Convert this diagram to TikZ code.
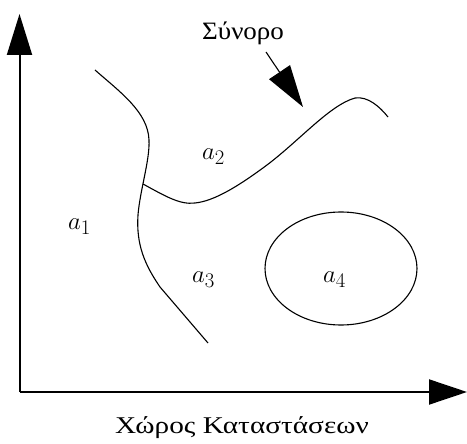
\documentclass[tikz,border=0pt]{standalone}
\usepackage{fontspec}
\usetikzlibrary{arrows.meta}
\newfontfamily\grfont[FakeStretch=1.22]{Liberation Serif}
\newfontfamily\grfonttop[FakeStretch=1.08]{Liberation Serif}
\begin{document}
\begin{tikzpicture}[x=1pt,y=-1pt,
  axis/.style={line width=2pt},
  curve/.style={line width=1.1pt},
  lbl/.style={inner sep=0pt,anchor=base west},
  mlbl/.style={inner sep=0pt,anchor=base west,font=\fontsize{29}{34}\selectfont}]
\useasboundingbox (0,0) rectangle (467,444);
% axes
\coordinate (O) at (19.5,392);
\coordinate (ytip) at (19.5,14);
\coordinate (xtip) at (467,392);
\draw[axis,-{Triangle[length=41pt,width=25pt]}] (O) -- (ytip);
\draw[axis,-{Triangle[length=38pt,width=25pt]}] (O) -- (xtip);
% boundary curves
\draw[curve] (95,70) .. controls (120,92) and (148,112) .. (149,140)
  .. controls (150,160) and (140,190) .. (138,215)
  .. controls (136,245) and (145,265) .. (160,287) -- (208,343);
\draw[curve] (143,184) .. controls (165,196) and (180,205) .. (195,203)
  .. controls (215,201) and (240,185) .. (267,165)
  .. controls (300,140) and (330,105) .. (355,98)
  .. controls (368,96) and (380,107) .. (388,117);
\draw[curve] (341,268.5) ellipse [x radius=76, y radius=56.5];
% labels
\node[mlbl] (a1) at (68,230) {$a_1$};
\node[mlbl] (a2) at (202,160) {$a_2$};
\node[mlbl] (a3) at (192,283) {$a_3$};
\node[mlbl] (a4) at (323,283) {$a_4$};
\node[lbl,font=\fontsize{25}{30}\selectfont\grfonttop] (syn) at (202,40) {Σύνορο};
\node[lbl,font=\fontsize{24}{28}\selectfont\grfont] (xk) at (115,433) {Χώρος Καταστάσεων};
% pointer
\coordinate (ps) at (266,52);
\coordinate (pt) at (303,107);
\draw[line width=1.1pt,-{Triangle[length=42pt,width=25pt]}] (ps) -- (pt);
\end{tikzpicture}
\end{document}
